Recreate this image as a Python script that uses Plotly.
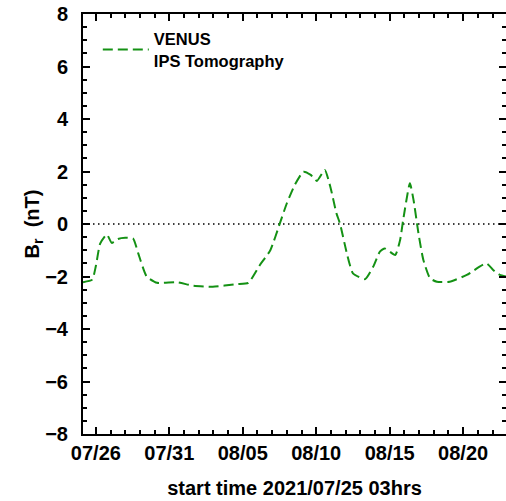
import plotly.graph_objects as go

times = [
    "2021-07-25 03:00", "2021-07-25 18:00", "2021-07-26 00:00", "2021-07-26 07:00",
    "2021-07-26 18:00", "2021-07-27 02:00", "2021-07-27 12:00", "2021-07-28 00:00",
    "2021-07-28 13:00", "2021-07-28 21:00", "2021-07-29 11:00", "2021-07-30 04:00",
    "2021-07-31 12:00", "2021-08-01 15:00", "2021-08-02 23:00", "2021-08-04 14:00",
    "2021-08-05 09:00", "2021-08-06 04:00", "2021-08-06 21:00", "2021-08-07 13:00",
    "2021-08-08 00:00", "2021-08-08 13:00", "2021-08-09 03:00", "2021-08-09 15:00",
    "2021-08-10 01:00", "2021-08-10 14:00", "2021-08-10 23:00", "2021-08-11 09:00",
    "2021-08-11 15:00", "2021-08-12 02:00", "2021-08-12 12:00", "2021-08-13 08:00",
    "2021-08-13 21:00", "2021-08-14 08:00", "2021-08-14 16:00", "2021-08-15 09:00",
    "2021-08-15 17:00", "2021-08-15 22:00", "2021-08-16 09:00", "2021-08-16 15:00",
    "2021-08-16 23:00", "2021-08-17 07:00", "2021-08-17 18:00", "2021-08-18 05:00",
    "2021-08-19 02:00", "2021-08-20 06:00", "2021-08-21 14:00", "2021-08-22 01:00",
    "2021-08-22 12:00", "2021-08-22 22:00",
]
br_venus = [
    -2.22, -2.12, -1.60, -0.75,
    -0.40, -0.72, -0.57, -0.52,
    -0.56, -1.10, -2.00, -2.24,
    -2.22, -2.35, -2.39, -2.29,
    -2.24, -1.56, -1.00, 0.05,
    0.79, 1.49, 1.99, 1.87,
    1.64, 2.06, 1.42, 0.41,
    0.00, -1.12, -1.88, -2.10,
    -1.63, -1.05, -0.93, -1.18,
    -0.61, 0.15, 1.55, 0.91,
    -0.36, -1.37, -2.07, -2.20,
    -2.20, -1.94, -1.50, -1.75,
    -1.94, -2.00,
]
series_name = "VENUS<br>IPS Tomography"
x_range = ["2021-07-25 03:00", "2021-08-22 22:00"]
y_range = [-8, 8]

font_family = "Liberation Sans"
bold20 = dict(family=font_family, size=20, color="black", weight="bold")

fig = go.Figure()
fig.add_trace(go.Scatter(
    x=times, y=br_venus, mode="lines", name=series_name,
    line=dict(color="rgb(20,145,20)", width=2, dash="10px,5px", shape="spline", smoothing=0.5),
))
# invisible trace carrying the right-hand mirror ticks
fig.add_trace(go.Scatter(x=[x_range[0]], y=[0], yaxis="y2", mode="lines",
                         showlegend=False, hoverinfo="skip", line=dict(width=0)))

fig.add_shape(type="line", xref="paper", x0=0, x1=1, yref="y", y0=0, y1=0,
              line=dict(color="black", width=1.5, dash="1.5px,3.5px"), layer="below")

fig.update_xaxes(
    type="date", range=x_range, tickformat="%m/%d",
    tick0="2021-07-26", dtick=5 * 86400000,
    showline=True, linecolor="black", linewidth=2, mirror="ticks",
    ticks="inside", tickcolor="black", tickwidth=1.5, ticklen=7,
    showgrid=False, zeroline=False, tickfont=bold20,
    minor=dict(ticks="inside", dtick=86400000, tick0="2021-07-26", ticklen=4, tickwidth=1.5, tickcolor="black"),
    title=dict(text="start time 2021/07/25 03hrs", standoff=18, font=bold20),
    ticklabelstandoff=0,
)
fig.update_layout(
    yaxis=dict(
        range=y_range, dtick=2, tick0=0,
        showline=True, linecolor="black", linewidth=2, mirror=False,
        ticks="inside", tickcolor="black", tickwidth=1.5, ticklen=7,
        showgrid=False, zeroline=False, tickfont=bold20,
        minor=dict(ticks="inside", dtick=0.5, ticklen=4, tickwidth=1.5, tickcolor="black"),
        title=dict(text="B<sub>r</sub>  (nT)", standoff=0, font=bold20),
        ticklabelstandoff=9,
    ),
    yaxis2=dict(
        range=y_range, dtick=2, tick0=0, overlaying="y", side="right",
        showline=False, showticklabels=False,
        ticks="inside", tickcolor="black", tickwidth=1.5, ticklen=7,
        showgrid=False, zeroline=False,
        minor=dict(ticks="inside", dtick=0.5, ticklen=4, tickwidth=1.5, tickcolor="black"),
    ),
    width=506, height=501,
    margin=dict(l=83, r=0, t=14, b=67),
    paper_bgcolor="white", plot_bgcolor="white",
    showlegend=True,
    legend=dict(x=0.035, y=0.982, xanchor="left", yanchor="top",
                bgcolor="rgba(0,0,0,0)", itemwidth=46,
                font=dict(family=font_family, size=16.5, color="black", weight="bold")),
)

fig.write_html("out.html")
